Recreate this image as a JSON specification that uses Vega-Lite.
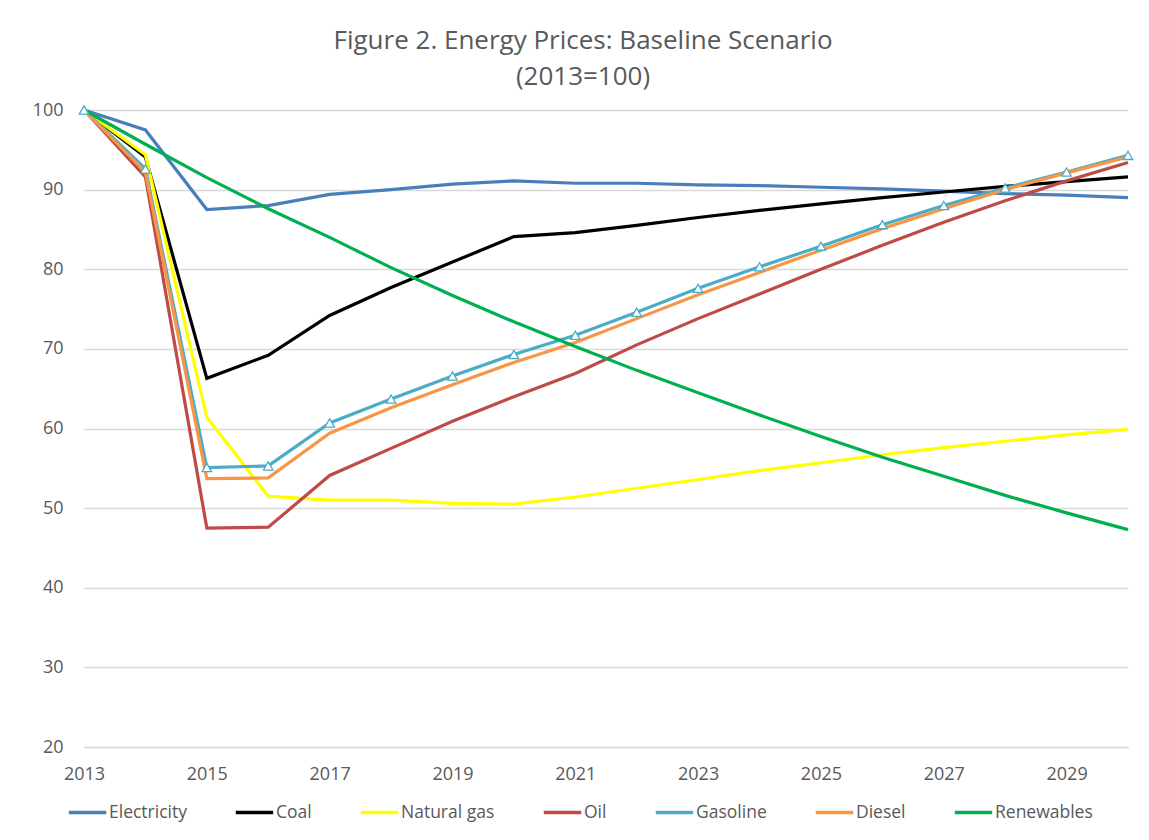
{
  "$schema": "https://vega.github.io/schema/vega-lite/v6.json",
  "width": 1044,
  "height": 637,
  "autosize": {"type": "none"},
  "padding": {"left": 84, "top": 110, "right": 21, "bottom": 93},
  "background": "white",
  "title": {
    "text": ["Figure 2. Energy Prices:  Baseline Scenario", "(2013=100)"],
    "font": "Open Sans",
    "fontSize": 26,
    "fontWeight": "normal",
    "color": "#595959",
    "anchor": "middle",
    "dx": -23,
    "offset": 11,
    "lineHeight": 36
  },
  "config": {
    "view": {"stroke": null},
    "font": "Open Sans",
    "axis": {
      "labelFont": "Open Sans",
      "labelFontSize": 18,
      "labelColor": "#595959",
      "gridColor": "#d9d9d9",
      "gridWidth": 1.3,
      "domainColor": "#d9d9d9",
      "ticks": false,
      "title": null
    },
    "legend": {
      "labelFont": "Open Sans",
      "labelFontSize": 17.5,
      "labelColor": "#595959"
    }
  },
  "data": {
    "values": [
      {"year": 2013, "series": "Electricity", "value": 100},
      {"year": 2014, "series": "Electricity", "value": 97.5},
      {"year": 2015, "series": "Electricity", "value": 87.5},
      {"year": 2016, "series": "Electricity", "value": 88.0},
      {"year": 2017, "series": "Electricity", "value": 89.4},
      {"year": 2018, "series": "Electricity", "value": 90.0},
      {"year": 2019, "series": "Electricity", "value": 90.7},
      {"year": 2020, "series": "Electricity", "value": 91.1},
      {"year": 2021, "series": "Electricity", "value": 90.8},
      {"year": 2022, "series": "Electricity", "value": 90.8},
      {"year": 2023, "series": "Electricity", "value": 90.6},
      {"year": 2024, "series": "Electricity", "value": 90.5},
      {"year": 2025, "series": "Electricity", "value": 90.3},
      {"year": 2026, "series": "Electricity", "value": 90.1},
      {"year": 2027, "series": "Electricity", "value": 89.8},
      {"year": 2028, "series": "Electricity", "value": 89.5},
      {"year": 2029, "series": "Electricity", "value": 89.3},
      {"year": 2030, "series": "Electricity", "value": 89.0},

      {"year": 2013, "series": "Coal", "value": 100},
      {"year": 2014, "series": "Coal", "value": 94.1},
      {"year": 2015, "series": "Coal", "value": 66.3},
      {"year": 2016, "series": "Coal", "value": 69.2},
      {"year": 2017, "series": "Coal", "value": 74.2},
      {"year": 2018, "series": "Coal", "value": 77.7},
      {"year": 2019, "series": "Coal", "value": 80.9},
      {"year": 2020, "series": "Coal", "value": 84.1},
      {"year": 2021, "series": "Coal", "value": 84.6},
      {"year": 2022, "series": "Coal", "value": 85.5},
      {"year": 2023, "series": "Coal", "value": 86.5},
      {"year": 2024, "series": "Coal", "value": 87.4},
      {"year": 2025, "series": "Coal", "value": 88.2},
      {"year": 2026, "series": "Coal", "value": 89.0},
      {"year": 2027, "series": "Coal", "value": 89.7},
      {"year": 2028, "series": "Coal", "value": 90.4},
      {"year": 2029, "series": "Coal", "value": 91.0},
      {"year": 2030, "series": "Coal", "value": 91.6},

      {"year": 2013, "series": "Natural gas", "value": 100},
      {"year": 2014, "series": "Natural gas", "value": 94.4},
      {"year": 2015, "series": "Natural gas", "value": 61.4},
      {"year": 2016, "series": "Natural gas", "value": 51.5},
      {"year": 2017, "series": "Natural gas", "value": 51.0},
      {"year": 2018, "series": "Natural gas", "value": 51.0},
      {"year": 2019, "series": "Natural gas", "value": 50.6},
      {"year": 2020, "series": "Natural gas", "value": 50.5},
      {"year": 2021, "series": "Natural gas", "value": 51.4},
      {"year": 2022, "series": "Natural gas", "value": 52.5},
      {"year": 2023, "series": "Natural gas", "value": 53.6},
      {"year": 2024, "series": "Natural gas", "value": 54.7},
      {"year": 2025, "series": "Natural gas", "value": 55.7},
      {"year": 2026, "series": "Natural gas", "value": 56.7},
      {"year": 2027, "series": "Natural gas", "value": 57.6},
      {"year": 2028, "series": "Natural gas", "value": 58.4},
      {"year": 2029, "series": "Natural gas", "value": 59.2},
      {"year": 2030, "series": "Natural gas", "value": 59.9},

      {"year": 2013, "series": "Oil", "value": 100},
      {"year": 2014, "series": "Oil", "value": 91.6},
      {"year": 2015, "series": "Oil", "value": 47.5},
      {"year": 2016, "series": "Oil", "value": 47.6},
      {"year": 2017, "series": "Oil", "value": 54.1},
      {"year": 2018, "series": "Oil", "value": 57.5},
      {"year": 2019, "series": "Oil", "value": 60.9},
      {"year": 2020, "series": "Oil", "value": 64.0},
      {"year": 2021, "series": "Oil", "value": 66.9},
      {"year": 2022, "series": "Oil", "value": 70.5},
      {"year": 2023, "series": "Oil", "value": 73.8},
      {"year": 2024, "series": "Oil", "value": 76.9},
      {"year": 2025, "series": "Oil", "value": 80.0},
      {"year": 2026, "series": "Oil", "value": 83.0},
      {"year": 2027, "series": "Oil", "value": 85.9},
      {"year": 2028, "series": "Oil", "value": 88.6},
      {"year": 2029, "series": "Oil", "value": 91.1},
      {"year": 2030, "series": "Oil", "value": 93.4},

      {"year": 2013, "series": "Gasoline", "value": 100},
      {"year": 2014, "series": "Gasoline", "value": 92.6},
      {"year": 2015, "series": "Gasoline", "value": 55.1},
      {"year": 2016, "series": "Gasoline", "value": 55.3},
      {"year": 2017, "series": "Gasoline", "value": 60.7},
      {"year": 2018, "series": "Gasoline", "value": 63.7},
      {"year": 2019, "series": "Gasoline", "value": 66.6},
      {"year": 2020, "series": "Gasoline", "value": 69.3},
      {"year": 2021, "series": "Gasoline", "value": 71.7},
      {"year": 2022, "series": "Gasoline", "value": 74.6},
      {"year": 2023, "series": "Gasoline", "value": 77.6},
      {"year": 2024, "series": "Gasoline", "value": 80.3},
      {"year": 2025, "series": "Gasoline", "value": 82.9},
      {"year": 2026, "series": "Gasoline", "value": 85.6},
      {"year": 2027, "series": "Gasoline", "value": 88.0},
      {"year": 2028, "series": "Gasoline", "value": 90.2},
      {"year": 2029, "series": "Gasoline", "value": 92.2},
      {"year": 2030, "series": "Gasoline", "value": 94.3},

      {"year": 2013, "series": "Diesel", "value": 100},
      {"year": 2014, "series": "Diesel", "value": 92.2},
      {"year": 2015, "series": "Diesel", "value": 53.7},
      {"year": 2016, "series": "Diesel", "value": 53.8},
      {"year": 2017, "series": "Diesel", "value": 59.4},
      {"year": 2018, "series": "Diesel", "value": 62.6},
      {"year": 2019, "series": "Diesel", "value": 65.5},
      {"year": 2020, "series": "Diesel", "value": 68.3},
      {"year": 2021, "series": "Diesel", "value": 70.8},
      {"year": 2022, "series": "Diesel", "value": 73.8},
      {"year": 2023, "series": "Diesel", "value": 76.8},
      {"year": 2024, "series": "Diesel", "value": 79.6},
      {"year": 2025, "series": "Diesel", "value": 82.4},
      {"year": 2026, "series": "Diesel", "value": 85.1},
      {"year": 2027, "series": "Diesel", "value": 87.6},
      {"year": 2028, "series": "Diesel", "value": 90.0},
      {"year": 2029, "series": "Diesel", "value": 92.1},
      {"year": 2030, "series": "Diesel", "value": 94.1},

      {"year": 2013, "series": "Renewables", "value": 100},
      {"year": 2014, "series": "Renewables", "value": 95.7},
      {"year": 2015, "series": "Renewables", "value": 91.5},
      {"year": 2016, "series": "Renewables", "value": 87.6},
      {"year": 2017, "series": "Renewables", "value": 84.0},
      {"year": 2018, "series": "Renewables", "value": 80.2},
      {"year": 2019, "series": "Renewables", "value": 76.7},
      {"year": 2020, "series": "Renewables", "value": 73.4},
      {"year": 2021, "series": "Renewables", "value": 70.3},
      {"year": 2022, "series": "Renewables", "value": 67.3},
      {"year": 2023, "series": "Renewables", "value": 64.5},
      {"year": 2024, "series": "Renewables", "value": 61.7},
      {"year": 2025, "series": "Renewables", "value": 59.0},
      {"year": 2026, "series": "Renewables", "value": 56.4},
      {"year": 2027, "series": "Renewables", "value": 54.0},
      {"year": 2028, "series": "Renewables", "value": 51.6},
      {"year": 2029, "series": "Renewables", "value": 49.4},
      {"year": 2030, "series": "Renewables", "value": 47.3}
    ]
  },
  "encoding": {
    "x": {
      "field": "year",
      "type": "quantitative",
      "scale": {"domain": [2013, 2030], "nice": false, "zero": false},
      "axis": {
        "values": [2013, 2015, 2017, 2019, 2021, 2023, 2025, 2027, 2029],
        "format": "d",
        "grid": false,
        "labelPadding": 18,
        "domainWidth": 1.3,
        "labelFlush": false
      }
    },
    "y": {
      "field": "value",
      "type": "quantitative",
      "scale": {"domain": [20, 100], "nice": false, "zero": false},
      "axis": {
        "values": [20, 30, 40, 50, 60, 70, 80, 90, 100],
        "domain": false,
        "labelPadding": 21
      }
    },
    "color": {
      "field": "series",
      "type": "nominal",
      "sort": ["Electricity", "Coal", "Natural gas", "Oil", "Gasoline", "Diesel", "Renewables"],
      "scale": {
        "domain": ["Electricity", "Coal", "Natural gas", "Oil", "Gasoline", "Diesel", "Renewables"],
        "range": ["#4a7ebb", "#000000", "#ffff00", "#be4b48", "#4bacc6", "#f79646", "#00b050"]
      },
      "legend": {
        "title": null,
        "orient": "none",
        "legendX": -17,
        "legendY": 682,
        "direction": "horizontal",
        "columns": 7,
        "symbolType": "stroke",
        "symbolStrokeWidth": 3.5,
        "symbolSize": 1400,
        "labelOffset": 1,
        "columnPadding": 41,
        "symbolOpacity": 1
      }
    }
  },
  "layer": [
    {
      "mark": {"type": "line", "strokeWidth": 3.2},
      "encoding": {"detail": {"field": "series"}}
    },
    {
      "transform": [{"filter": "datum.series === 'Gasoline'"}],
      "mark": {"type": "point", "shape": "triangle-up", "filled": true, "fill": "white", "stroke": "#4bacc6", "strokeWidth": 1.3, "size": 90, "opacity": 1}
    }
  ]
}
